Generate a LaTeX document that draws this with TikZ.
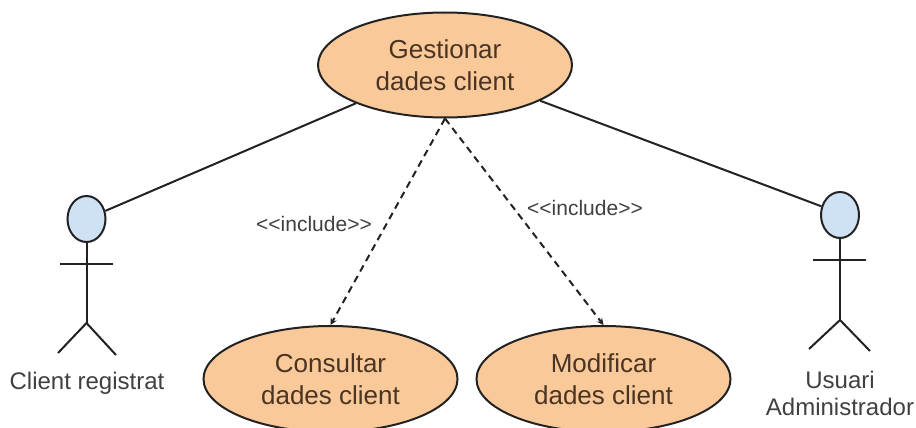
\documentclass[tikz,border=0pt]{standalone}
\usepackage{fontspec}
\setmainfont{Liberation Sans}
\usetikzlibrary{shapes.geometric}
\definecolor{casefill}{HTML}{F9C999}
\definecolor{headfill}{HTML}{CFE2F3}
\definecolor{inkline}{HTML}{222222}
\definecolor{casetext}{HTML}{4A3423}
\begin{document}
\begin{tikzpicture}[
    x=1pt,y=-1pt,
    line width=2pt,
    >=stealth,
    usecase/.style={ellipse,draw=inkline,fill=casefill,inner sep=0pt,align=center,minimum width=254pt,font=\fontsize{26}{32}\selectfont,text=casetext},
    head/.style={ellipse,draw=inkline,fill=headfill,inner sep=0pt,minimum width=38pt,minimum height=46pt},
    actorname/.style={align=center,inner sep=0pt,font=\fontsize{24}{27}\selectfont,text=black!75},
    stereo/.style={inner sep=0pt,font=\fontsize{21}{25}\selectfont,text=black!75},
    stick/.style={draw=inkline},
]
    \useasboundingbox (0,0) rectangle (916,428);
    \node[usecase,minimum height=105pt] (gestionar) at (445,65) {Gestionar\\dades client};
    \node[usecase,minimum height=106pt] (consultar) at (330.5,379) {Consultar\\dades client};
    \node[usecase,minimum height=106pt] (modificar) at (603.5,379) {Modificar\\dades client};
    % actors
    \node[head] (headclient) at (86.5,219) {};
    \coordinate (hipclient) at (86.5,323);
    \coordinate (armclientl) at (60,264);
    \coordinate (armclientr) at (113,264);
    \coordinate (footclientl) at (58,353);
    \coordinate (footclientr) at (116,355);
    \draw[stick] (headclient) -- (hipclient);
    \draw[stick] (armclientl) -- (armclientr);
    \draw[stick] (footclientl) -- (hipclient) -- (footclientr);
    \node[actorname] (nameclient) at (87,383) {Client registrat};
    \node[head] (headadmin) at (840,215) {};
    \coordinate (hipadmin) at (840,320);
    \coordinate (armadminl) at (813,260);
    \coordinate (armadminr) at (866,260);
    \coordinate (footadminl) at (809,349);
    \coordinate (footadminr) at (870,351);
    \draw[stick] (headadmin) -- (hipadmin);
    \draw[stick] (armadminl) -- (armadminr);
    \draw[stick] (footadminl) -- (hipadmin) -- (footadminr);
    \node[actorname] (nameadmin) at (840,393) {Usuari\\Administrador};
    % connectors
    \draw[stick] (gestionar) -- (headclient);
    \draw[stick] (gestionar) -- (headadmin.155);
    \draw[stick,dash pattern=on 7pt off 5pt,->] (gestionar.south) -- (consultar.north);
    \draw[stick,dash pattern=on 7pt off 5pt,->] (gestionar.south) -- (modificar.north);
    \node[stereo] (inclconsultar) at (314,224) {{<}{<}include{>}{>}};
    \node[stereo] (inclmodificar) at (585,208) {{<}{<}include{>}{>}};
\end{tikzpicture}
\end{document}
